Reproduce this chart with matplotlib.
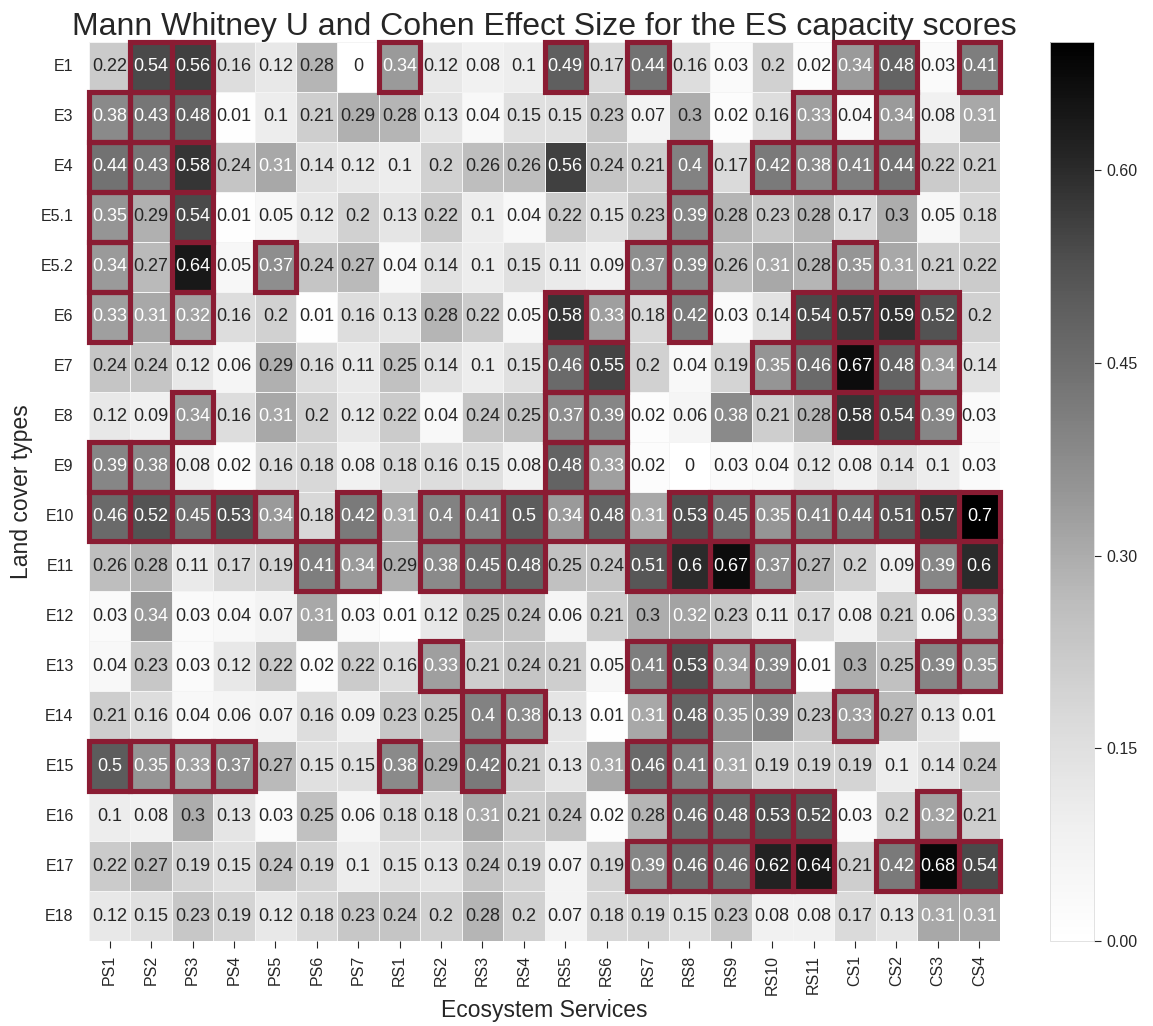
import numpy as np
import matplotlib
matplotlib.use("Agg")
import matplotlib.pyplot as plt
import seaborn as sns
from matplotlib.patches import Rectangle
from matplotlib.ticker import FormatStrFormatter

# land cover types (rows) and ecosystem services (columns)
land_cover = ["E1", "E3", "E4", "E5.1", "E5.2", "E6", "E7", "E8", "E9", "E10",
              "E11", "E12", "E13", "E14", "E15", "E16", "E17", "E18"]
services = ["PS1", "PS2", "PS3", "PS4", "PS5", "PS6", "PS7",
            "RS1", "RS2", "RS3", "RS4", "RS5", "RS6", "RS7", "RS8", "RS9", "RS10", "RS11",
            "CS1", "CS2", "CS3", "CS4"]

# effect sizes
effect_size = [
    [0.22, 0.54, 0.56, 0.16, 0.12, 0.28, 0, 0.34, 0.12, 0.08, 0.1, 0.49, 0.17, 0.44, 0.16, 0.03, 0.2, 0.02, 0.34, 0.48, 0.03, 0.41],
    [0.38, 0.43, 0.48, 0.01, 0.1, 0.21, 0.29, 0.28, 0.13, 0.04, 0.15, 0.15, 0.23, 0.07, 0.3, 0.02, 0.16, 0.33, 0.04, 0.34, 0.08, 0.31],
    [0.44, 0.43, 0.58, 0.24, 0.31, 0.14, 0.12, 0.1, 0.2, 0.26, 0.26, 0.56, 0.24, 0.21, 0.4, 0.17, 0.42, 0.38, 0.41, 0.44, 0.22, 0.21],
    [0.35, 0.29, 0.54, 0.01, 0.05, 0.12, 0.2, 0.13, 0.22, 0.1, 0.04, 0.22, 0.15, 0.23, 0.39, 0.28, 0.23, 0.28, 0.17, 0.3, 0.05, 0.18],
    [0.34, 0.27, 0.64, 0.05, 0.37, 0.24, 0.27, 0.04, 0.14, 0.1, 0.15, 0.11, 0.09, 0.37, 0.39, 0.26, 0.31, 0.28, 0.35, 0.31, 0.21, 0.22],
    [0.33, 0.31, 0.32, 0.16, 0.2, 0.01, 0.16, 0.13, 0.28, 0.22, 0.05, 0.58, 0.33, 0.18, 0.42, 0.03, 0.14, 0.54, 0.57, 0.59, 0.52, 0.2],
    [0.24, 0.24, 0.12, 0.06, 0.29, 0.16, 0.11, 0.25, 0.14, 0.1, 0.15, 0.46, 0.55, 0.2, 0.04, 0.19, 0.35, 0.46, 0.67, 0.48, 0.34, 0.14],
    [0.12, 0.09, 0.34, 0.16, 0.31, 0.2, 0.12, 0.22, 0.04, 0.24, 0.25, 0.37, 0.39, 0.02, 0.06, 0.38, 0.21, 0.28, 0.58, 0.54, 0.39, 0.03],
    [0.39, 0.38, 0.08, 0.02, 0.16, 0.18, 0.08, 0.18, 0.16, 0.15, 0.08, 0.48, 0.33, 0.02, 0, 0.03, 0.04, 0.12, 0.08, 0.14, 0.1, 0.03],
    [0.46, 0.52, 0.45, 0.53, 0.34, 0.18, 0.42, 0.31, 0.4, 0.41, 0.5, 0.34, 0.48, 0.31, 0.53, 0.45, 0.35, 0.41, 0.44, 0.51, 0.57, 0.7],
    [0.26, 0.28, 0.11, 0.17, 0.19, 0.41, 0.34, 0.29, 0.38, 0.45, 0.48, 0.25, 0.24, 0.51, 0.6, 0.67, 0.37, 0.27, 0.2, 0.09, 0.39, 0.6],
    [0.03, 0.34, 0.03, 0.04, 0.07, 0.31, 0.03, 0.01, 0.12, 0.25, 0.24, 0.06, 0.21, 0.3, 0.32, 0.23, 0.11, 0.17, 0.08, 0.21, 0.06, 0.33],
    [0.04, 0.23, 0.03, 0.12, 0.22, 0.02, 0.22, 0.16, 0.33, 0.21, 0.24, 0.21, 0.05, 0.41, 0.53, 0.34, 0.39, 0.01, 0.3, 0.25, 0.39, 0.35],
    [0.21, 0.16, 0.04, 0.06, 0.07, 0.16, 0.09, 0.23, 0.25, 0.4, 0.38, 0.13, 0.01, 0.31, 0.48, 0.35, 0.39, 0.23, 0.33, 0.27, 0.13, 0.01],
    [0.5, 0.35, 0.33, 0.37, 0.27, 0.15, 0.15, 0.38, 0.29, 0.42, 0.21, 0.13, 0.31, 0.46, 0.41, 0.31, 0.19, 0.19, 0.19, 0.1, 0.14, 0.24],
    [0.1, 0.08, 0.3, 0.13, 0.03, 0.25, 0.06, 0.18, 0.18, 0.31, 0.21, 0.24, 0.02, 0.28, 0.46, 0.48, 0.53, 0.52, 0.03, 0.2, 0.32, 0.21],
    [0.22, 0.27, 0.19, 0.15, 0.24, 0.19, 0.1, 0.15, 0.13, 0.24, 0.19, 0.07, 0.19, 0.39, 0.46, 0.46, 0.62, 0.64, 0.21, 0.42, 0.68, 0.54],
    [0.12, 0.15, 0.23, 0.19, 0.12, 0.18, 0.23, 0.24, 0.2, 0.28, 0.2, 0.07, 0.18, 0.19, 0.15, 0.23, 0.08, 0.08, 0.17, 0.13, 0.31, 0.31],
]

# cells marked as significant (Mann Whitney U)
significant = {
    "E1": ["PS2", "PS3", "RS1", "RS5", "RS7", "CS1", "CS2", "CS4"],
    "E3": ["PS1", "PS2", "PS3", "RS11", "CS2"],
    "E4": ["PS1", "PS2", "PS3", "RS8", "RS10", "RS11", "CS1", "CS2"],
    "E5.1": ["PS1", "PS3", "RS8"],
    "E5.2": ["PS1", "PS3", "PS5", "RS7", "RS8", "CS1"],
    "E6": ["PS1", "PS3", "RS5", "RS6", "RS8", "RS11", "CS1", "CS2", "CS3"],
    "E7": ["RS5", "RS6", "RS10", "RS11", "CS1", "CS2", "CS3"],
    "E8": ["PS3", "RS5", "RS6", "CS1", "CS2", "CS3"],
    "E9": ["PS1", "PS2", "RS5", "RS6"],
    "E10": ["PS1", "PS2", "PS3", "PS4", "PS5", "PS7", "RS2", "RS3", "RS4", "RS5", "RS6",
            "RS8", "RS9", "RS10", "RS11", "CS1", "CS2", "CS3", "CS4"],
    "E11": ["PS6", "PS7", "RS2", "RS3", "RS4", "RS7", "RS8", "RS9", "RS10", "CS3", "CS4"],
    "E12": ["CS4"],
    "E13": ["RS2", "RS7", "RS8", "RS9", "RS10", "CS3", "CS4"],
    "E14": ["RS3", "RS4", "RS8", "CS1"],
    "E15": ["PS1", "PS2", "PS3", "PS4", "RS1", "RS3", "RS7", "RS8"],
    "E16": ["RS8", "RS9", "RS10", "RS11", "CS3"],
    "E17": ["RS7", "RS8", "RS9", "RS10", "RS11", "CS2", "CS3", "CS4"],
}

scores = np.array(effect_size)

sns.set_style("ticks")
plt.rcParams['font.family'] = ['Liberation Sans', 'DejaVu Sans']

fig = plt.figure(figsize=(11.53, 10.26), dpi=100)
ax = fig.add_axes([0.0772, 0.0828, 0.7901, 0.8763])
cax = fig.add_axes([0.9107, 0.0828, 0.0382, 0.8763])

sns.heatmap(scores, ax=ax, cbar_ax=cax, cmap="Greys", vmin=0, vmax=0.70,
            annot=True, fmt="g", annot_kws={"size": 13},
            linewidths=0.5, linecolor="#f4f4f4",
            xticklabels=services, yticklabels=land_cover)

# red boxes around significant cells
for row, cols in significant.items():
    i = land_cover.index(row)
    for c in cols:
        j = services.index(c)
        ax.add_patch(Rectangle((j, i), 1, 1, fill=False, edgecolor="#8a1c33",
                               lw=3.7, clip_on=False, zorder=5))

ax.set_title("Mann Whitney U and Cohen Effect Size for the ES capacity scores",
             fontsize=23, pad=4)
ax.set_xlabel("Ecosystem Services", fontsize=16.5, labelpad=3)
ax.set_ylabel("Land cover types", fontsize=16.5, labelpad=6)
ax.tick_params(axis="x", labelsize=11.5, length=5, pad=5, rotation=90)
ax.tick_params(axis="y", labelsize=11.5, length=0, pad=11, rotation=0)

cax.yaxis.set_ticks([0, 0.15, 0.30, 0.45, 0.60])
cax.yaxis.set_major_formatter(FormatStrFormatter("%.2f"))
cax.tick_params(labelsize=11.5, length=5)
cbar = ax.collections[0].colorbar
cbar.outline.set_linewidth(0.6)
cbar.outline.set_edgecolor("#dddddd")

fig.savefig("out.png", dpi=100)
